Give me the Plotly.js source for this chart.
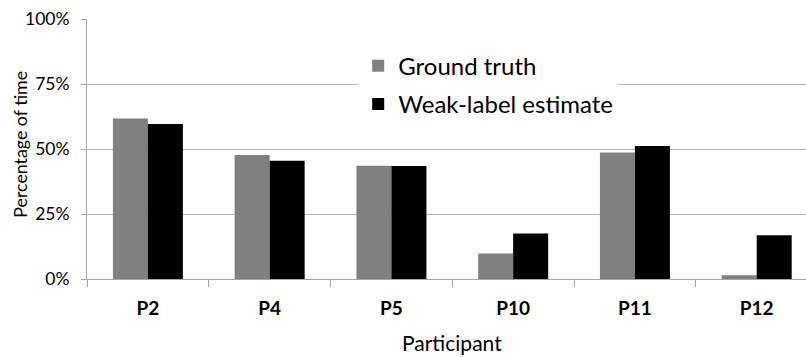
<!DOCTYPE html>
<html>
<head>
<meta charset="utf-8">
<script src="https://cdn.plot.ly/plotly-3.0.1.min.js"></script>
<style>html,body{margin:0;padding:0;background:#fff;}#chart{width:806px;height:358px;}</style>
</head>
<body>
<div id="chart"></div>
<script>
const participants = ["P2", "P4", "P5", "P10", "P11", "P12"];
const groundTruth = [61.7, 47.7, 43.6, 9.8, 48.7, 1.4];
const weakLabelEstimate = [59.6, 45.5, 43.5, 17.5, 51.2, 16.8];
const yTickValues = [0, 25, 50, 75, 100];
const yTickLabels = ["0%", "25%", "50%", "75%", "100%"];
const xAxisTitle = "Participant";
const yAxisTitle = "Percentage of time";

const FONT = "Lato, 'Open Sans', sans-serif";

const traces = [
  {
    type: "bar", name: "Ground truth", x: participants, y: groundTruth,
    marker: {color: "#808080", line: {width: 0}},
    legendgroup: "a", hoverinfo: "skip"
  },
  {
    type: "bar", name: "Weak-label estimate", x: participants, y: weakLabelEstimate,
    marker: {color: "#000000", line: {width: 0}},
    legendgroup: "b", hoverinfo: "skip"
  }
];

const layout = {
  width: 806, height: 358,
  margin: {l: 86.7, r: 0, t: 19.3, b: 78.7, pad: 0},
  paper_bgcolor: "#ffffff", plot_bgcolor: "#ffffff",
  font: {family: FONT, color: "#000000"},
  barmode: "group", bargap: 0.425, bargroupgap: 0,
  showlegend: true,
  legend: {
    x: 0.3772, y: 0.905, xanchor: "left", yanchor: "top",
    bgcolor: "#ffffff", borderwidth: 0,
    font: {family: FONT, size: 24, color: "#000000"},
    traceorder: "grouped", tracegroupgap: 4
  },
  xaxis: {
    type: "category", range: [-0.5, 5.405],
    tickson: "boundaries", ticks: "outside", ticklen: 7, tickcolor: "#a6a6a6", tickwidth: 1,
    showline: true, linecolor: "#a6a6a6", linewidth: 1,
    showgrid: false, zeroline: false,
    tickfont: {family: FONT, size: 19, weight: "bold", color: "#000000"},
    ticklabelstandoff: 12,
    automargin: false, fixedrange: true
  },
  yaxis: {
    range: [0, 100],
    tickvals: yTickValues, ticktext: yTickLabels,
    ticks: "outside", ticklen: 5, tickcolor: "#a6a6a6", tickwidth: 1,
    showline: true, linecolor: "#a6a6a6", linewidth: 1,
    showgrid: true, gridcolor: "#b3b3b3", gridwidth: 1,
    zeroline: false,
    tickfont: {family: FONT, size: 17.5, color: "#000000"},
    ticklabelstandoff: 8,
    automargin: false, fixedrange: true
  },
  annotations: [
    {
      text: xAxisTitle, xref: "paper", yref: "paper",
      x: 0.5079, y: -0.245, xanchor: "center", yanchor: "middle",
      showarrow: false, font: {family: FONT, size: 21, color: "#000000"}
    },
    {
      text: yAxisTitle, xref: "paper", yref: "paper", textangle: -90,
      x: -0.0934, y: 0.52, xanchor: "center", yanchor: "middle",
      showarrow: false, font: {family: FONT, size: 17.8, color: "#000000"}
    }
  ]
};

Plotly.newPlot("chart", traces, layout, {staticPlot: true, displayModeBar: false});
</script>
</body>
</html>
